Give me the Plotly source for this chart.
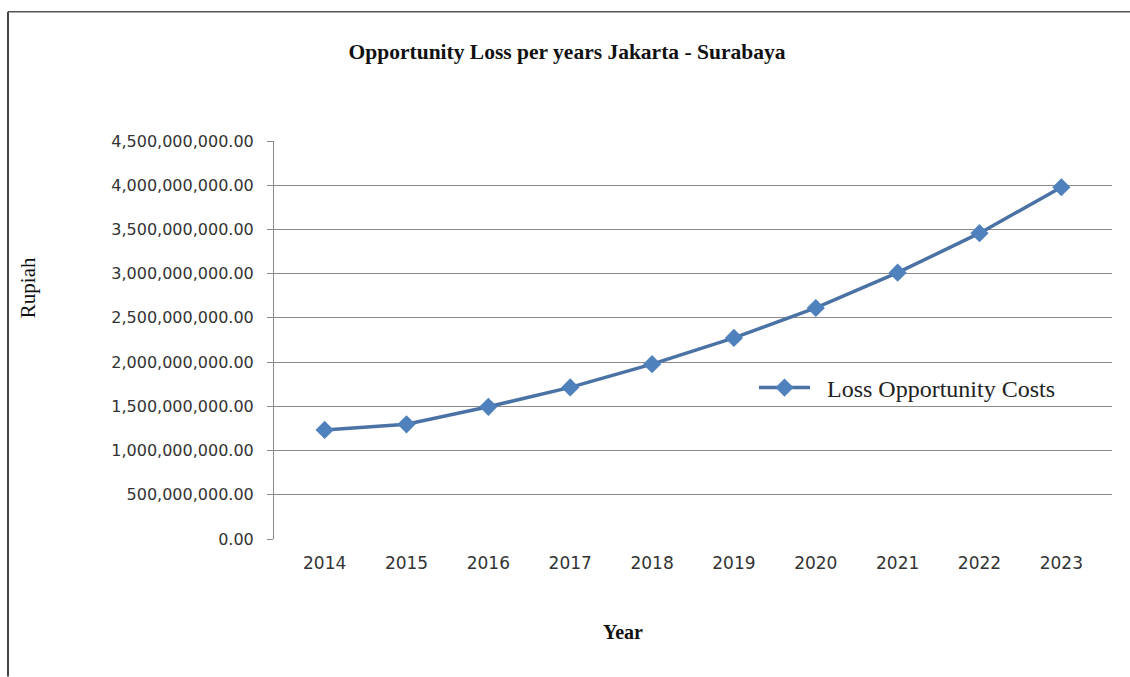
import plotly.graph_objects as go

years = ["2014", "2015", "2016", "2017", "2018", "2019", "2020", "2021", "2022", "2023"]
loss_costs = [1.233e9, 1.297e9, 1.495e9, 1.714e9, 1.977e9, 2.274e9, 2.612e9, 3.011e9, 3.458e9, 3.977e9]
series_name = "Loss Opportunity Costs"
y_ticks = [0, 0.5e9, 1.0e9, 1.5e9, 2.0e9, 2.5e9, 3.0e9, 3.5e9, 4.0e9, 4.5e9]

W, H = 1130, 677
L, R, T, B = 274, 18, 140.6, 137.7
pw, ph = W - L - R, H - T - B

def px(x):
    return (x - L) / pw

def py(y):
    return (H - B - y) / ph

fig = go.Figure()
fig.add_trace(go.Scatter(
    x=years, y=loss_costs, name="&nbsp;&nbsp;" + series_name, mode="lines+markers",
    line=dict(color="#4a72a4", width=3.5),
    marker=dict(symbol="diamond", size=14, color="#4f81bd"),
))

serif = "Liberation Serif, Times New Roman, serif"
sans = "DejaVu Sans, sans-serif"

fig.update_layout(
    width=W, height=H,
    margin=dict(l=L, r=R, t=T, b=B),
    paper_bgcolor="white", plot_bgcolor="white",
    showlegend=True,
    legend=dict(x=px(754), y=py(388), xanchor="left", yanchor="middle",
                itemwidth=51,
                font=dict(family=serif, size=24, color="#222"),
                bgcolor="rgba(0,0,0,0)"),
    title=dict(text="<b>Opportunity Loss per years Jakarta - Surabaya</b>",
               x=567 / W, y=1 - 51 / H, xref="container", yref="container",
               xanchor="center", yanchor="middle",
               font=dict(family=serif, size=21.5, color="#111")),
    xaxis=dict(type="category", showgrid=False, showline=False, ticks="",
               tickfont=dict(family=sans, size=17, color="#333"),
               ticklabelstandoff=12, zeroline=False),
    yaxis=dict(range=[0, 4.5e9], tickvals=y_ticks, tickformat=",.2f",
               showgrid=True, gridcolor="#8a8a8a", gridwidth=1,
               showline=True, linecolor="#8a8a8a", linewidth=1,
               ticks="outside", ticklen=6, tickcolor="#8a8a8a",
               tickfont=dict(family=sans, size=16, color="#333"),
               ticklabelstandoff=10, zeroline=False),
    annotations=[
        dict(text="Rupiah", x=px(28), y=py(288), xref="paper", yref="paper",
             showarrow=False, textangle=-90, xanchor="center", yanchor="middle",
             font=dict(family=serif, size=21, color="#111")),
        dict(text="<b>Year</b>", x=px(623), y=py(632), xref="paper", yref="paper",
             showarrow=False, xanchor="center", yanchor="middle",
             font=dict(family=serif, size=20, color="#111")),
    ],
    shapes=[
        dict(type="line", xref="paper", yref="paper", x0=px(8), x1=px(8),
             y0=py(11), y1=py(677), line=dict(color="#444", width=2)),
        dict(type="line", xref="paper", yref="paper", x0=px(8), x1=px(1130),
             y0=py(11), y1=py(11), line=dict(color="#555", width=1.5)),
    ],
)

fig.write_html("out.html")
